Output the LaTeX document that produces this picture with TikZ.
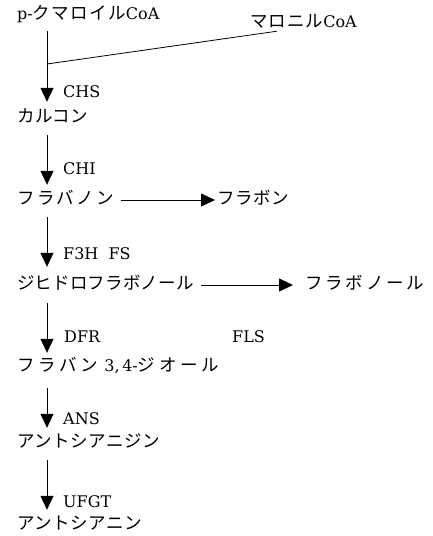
\documentclass[tikz,border=0pt]{standalone}
\usepackage{fontspec}
\setmainfont{DejaVu Serif}
\newfontfamily\jp{Noto Sans CJK JP}
\newcommand{\J}[2][0]{{\jp\fontsize{17.5}{20}\selectfont\addfontfeature{LetterSpace=#1}#2}}
\usetikzlibrary{arrows.meta}
\tikzset{
  lbl/.style={anchor=west, inner sep=0pt, text height=12pt, text depth=4pt, font=\fontsize{16}{20}\selectfont},
  enz/.style={anchor=west, inner sep=0pt, text height=12pt, text depth=0pt, font=\fontsize{16}{20}\selectfont},
  arr/.style={line width=0.8pt, -{Triangle[length=14pt,width=13pt]}},
  ln/.style={line width=0.8pt}
}
\begin{document}
\begin{tikzpicture}[x=1pt,y=-1pt]
\useasboundingbox (0,0) rectangle (433,536);
\node[lbl] (pc) at (17,15) {p-\J[8]{クマロイル}CoA};
\node[lbl] (ml) at (250,23) {\J[6]{マロニル}CoA};
\node[lbl] (ch) at (17,118) {\J[3]{カルコン}};
\node[lbl] (fa) at (17,200) {\J[14]{フラバノン}};
\node[lbl] (fo) at (217,200) {\J[3]{フラボン}};
\node[lbl] (dh) at (17,285) {\J[1]{ジヒドロフラボノール}};
\node[lbl] (fl) at (305,285) {\J[16]{フラボノール}};
\node[lbl] (fd) at (17,367) {\J[20]{フラバン}\hspace{6pt}3,\,4-\J[22]{ジオール}};
\node[lbl] (ad) at (17,443) {\J[3]{アントシアニジン}};
\node[lbl] (an) at (17,525) {\J[3]{アントシアニン}};
\node[enz] (chs) at (63,91) {CHS};
\node[enz] (chi) at (63,168) {CHI};
\node[enz] (f3h) at (63,253) {F3H\ \ FS};
\node[enz] (dfr) at (64,336) {DFR};
\node[enz] (fls) at (232,336) {FLS};
\node[enz] (ans) at (63,418) {ANS};
\node[enz] (ufgt) at (63,501) {UFGT};
\coordinate (j) at (47,64);
\draw[arr, shorten <=8pt, shorten >=8pt] (pc.south -| j) -- (ch.north -| j);
\draw[ln] ([xshift=27pt]ml.south west) -- (j);
\draw[arr, shorten <=9pt, shorten >=7pt] (ch.south -| j) -- (fa.north -| j);
\draw[arr, shorten <=9pt, shorten >=10pt] (fa.south -| j) -- (dh.north -| j);
\draw[arr, shorten <=10pt, shorten >=6pt] (dh.south -| j) -- (fd.north -| j);
\draw[arr, shorten <=13pt, shorten >=7pt] (fd.south -| j) -- (ad.north -| j);
\draw[arr, shorten <=9pt, shorten >=7pt] (ad.south -| j) -- (an.north -| j);
\draw[arr, shorten <=6pt, shorten >=2pt] (fa.east) -- (fo.west);
\draw[arr, shorten <=7pt, shorten >=12pt] (dh.east) -- (fl.west);
\end{tikzpicture}
\end{document}
